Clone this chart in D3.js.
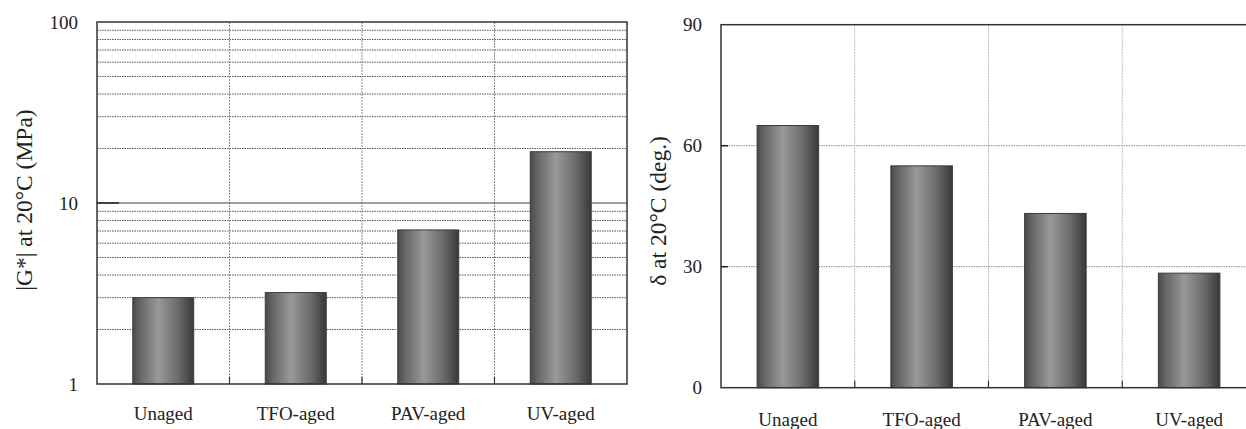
<!DOCTYPE html>
<html>
<head>
<meta charset="utf-8">
<script src="https://cdn.jsdelivr.net/npm/d3@7"></script>
<style>
  body { margin: 0; background: #fff; }
</style>
</head>
<body>
<div class="container"></div>
<script>
const CATEGORIES = ["Unaged", "TFO-aged", "PAV-aged", "UV-aged"];
const MODULUS = [3.0, 3.2, 7.1, 19.2];      // |G*| at 20°C, MPa
const PHASE = [65.0, 55.0, 43.2, 28.4];     // delta at 20°C, deg.
const MOD_TICKS = [1, 10, 100];
const MOD_MINOR = [2, 3, 4, 5, 6, 7, 8, 9, 20, 30, 40, 50, 60, 70, 80, 90];
const PHASE_TICKS = [0, 30, 60, 90];
const PHASE_GRID = [30, 60];

const WIDTH = 1246, HEIGHT = 429;
const BAR_FRAC = 0.46;
const FONT = "'Liberation Serif', 'DejaVu Serif', serif";

const svg = d3.select(".container").append("svg")
  .attr("width", WIDTH).attr("height", HEIGHT)
  .attr("viewBox", [0, 0, WIDTH, HEIGHT])
  .style("display", "block");

// cylinder-like shading for bars
const grad = svg.append("defs").append("linearGradient")
  .attr("id", "barGrad").attr("x1", "0%").attr("x2", "100%");
[[0, "#4a4a4a"], [0.12, "#666"], [0.42, "#999"], [0.75, "#6a6a6a"], [1, "#383838"]]
  .forEach(([o, c]) => grad.append("stop").attr("offset", o).attr("stop-color", c));

function drawPanel({ x0, x1, y, values, majors, minors, solid, fmt, label, labelX, labelY, catY, tickLen, vColor, gColor }) {
  const x = d3.scaleBand().domain(CATEGORIES).range([x0, x1]).padding(0);
  const [yb, yt] = y.range();
  const g = svg.append("g").attr("font-family", FONT).attr("fill", "#222");

  // horizontal dotted gridlines
  g.selectAll(".minor").data(minors).join("line")
    .attr("x1", x0).attr("x2", x1)
    .attr("y1", d => y(d)).attr("y2", d => y(d))
    .attr("stroke", gColor).attr("stroke-width", 1)
    .attr("stroke-dasharray", "1.5,1");

  // vertical category separators
  g.selectAll(".vsep").data(CATEGORIES.slice(1)).join("line")
    .attr("x1", d => x(d)).attr("x2", d => x(d))
    .attr("y1", yt).attr("y2", yb)
    .attr("stroke", vColor).attr("stroke-width", 1)
    .attr("stroke-dasharray", "2,1");

  // solid inner major lines
  g.selectAll(".major").data(solid).join("line")
    .attr("x1", x0).attr("x2", x1)
    .attr("y1", d => y(d)).attr("y2", d => y(d))
    .attr("stroke", "#444").attr("stroke-width", 1.2);

  // bars
  const bw = x.bandwidth() * BAR_FRAC;
  g.selectAll(".bar").data(values).join("rect")
    .attr("x", (d, i) => x(CATEGORIES[i]) + (x.bandwidth() - bw) / 2)
    .attr("y", d => y(d))
    .attr("width", bw)
    .attr("height", d => yb - y(d))
    .attr("fill", "url(#barGrad)")
    .attr("stroke", "#3a3a3a").attr("stroke-width", 1);

  // frame
  g.append("rect")
    .attr("x", x0).attr("y", yt).attr("width", x1 - x0).attr("height", yb - yt)
    .attr("fill", "none").attr("stroke", "#333").attr("stroke-width", 1.5);

  // inward ticks on the value axis
  g.selectAll(".ytick").data(majors.slice(1, -1)).join("line")
    .attr("x1", x0).attr("x2", x0 + tickLen)
    .attr("y1", d => y(d)).attr("y2", d => y(d))
    .attr("stroke", "#222").attr("stroke-width", 1.5);

  // inward ticks at category boundaries
  g.selectAll(".xtick").data(CATEGORIES.slice(1)).join("line")
    .attr("x1", d => x(d)).attr("x2", d => x(d))
    .attr("y1", yb).attr("y2", yb - 7)
    .attr("stroke", "#333").attr("stroke-width", 1.2);

  // value tick labels
  g.selectAll(".ylab").data(majors).join("text")
    .attr("x", x0 - 19).attr("y", d => y(d)).attr("dy", "0.35em")
    .attr("text-anchor", "end").attr("font-size", 19)
    .text(fmt);

  // category labels
  g.selectAll(".xlab").data(CATEGORIES).join("text")
    .attr("x", d => x(d) + x.bandwidth() / 2).attr("y", catY)
    .attr("text-anchor", "middle").attr("font-size", 19)
    .text(d => d);

  // axis title
  g.append("text")
    .attr("transform", `translate(${labelX},${labelY}) rotate(-90)`)
    .attr("text-anchor", "middle").attr("font-size", 23.5)
    .text(label);
}

drawPanel({
  x0: 97, x1: 627,
  y: d3.scaleLog().domain([1, 100]).range([384, 22]),
  values: MODULUS, majors: MOD_TICKS, minors: MOD_MINOR, solid: [10],
  fmt: d => d3.format("d")(d),
  label: "|G*| at 20°C (MPa)", labelX: 32, labelY: 200,
  catY: 420, tickLen: 22, vColor: "#888", gColor: "#555"
});

drawPanel({
  x0: 721, x1: 1256,
  y: d3.scaleLinear().domain([0, 90]).range([387.7, 24.7]),
  values: PHASE, majors: PHASE_TICKS, minors: PHASE_GRID, solid: [],
  fmt: d => d,
  label: "δ  at 20°C (deg.)", labelX: 666, labelY: 211,
  catY: 426, tickLen: 7, vColor: "#bbb", gColor: "#888"
});
</script>
</body>
</html>
